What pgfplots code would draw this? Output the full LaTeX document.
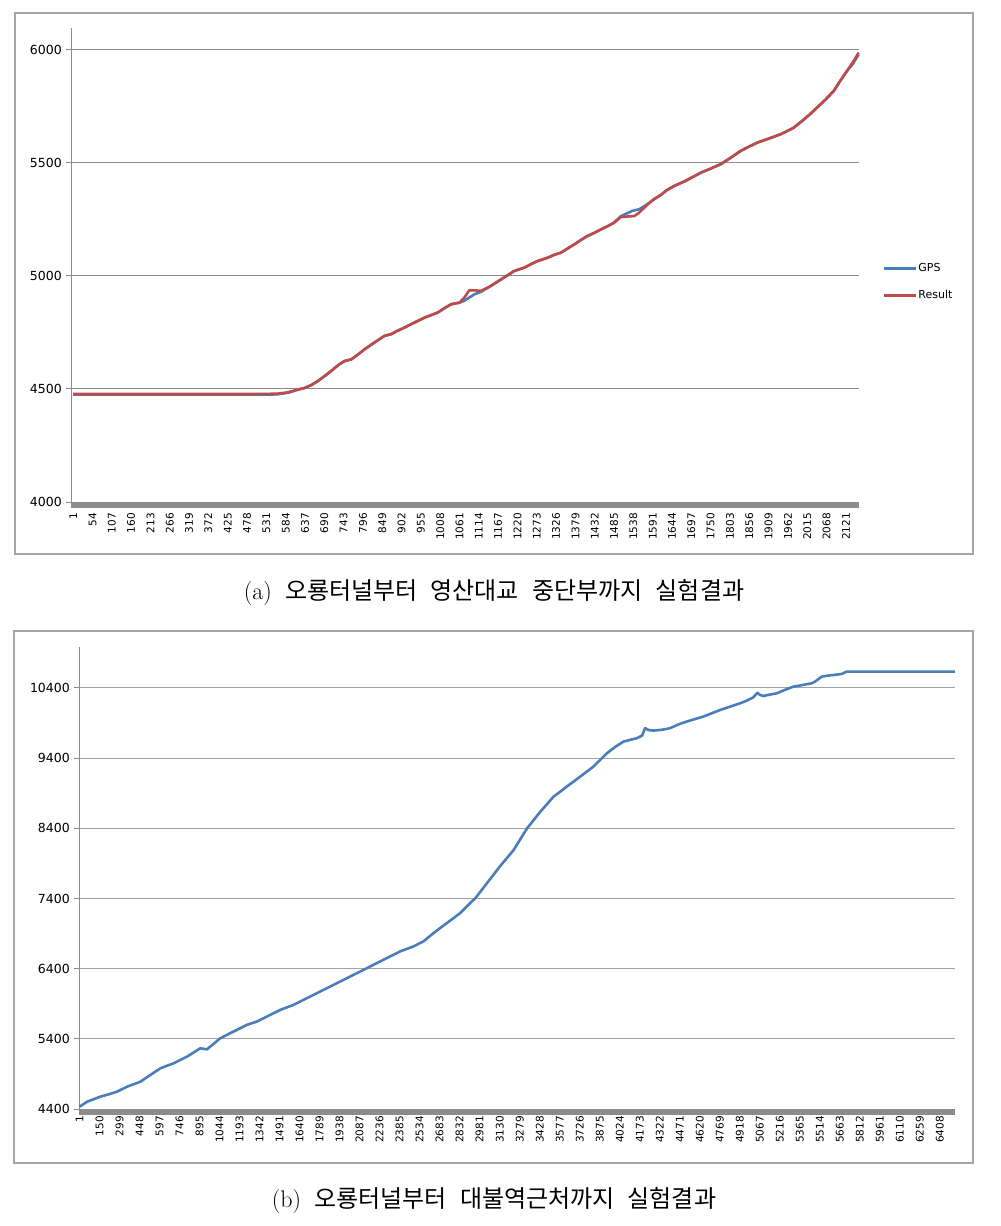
\documentclass[border=0pt]{standalone}
\usepackage{fontspec}
\usepackage{pgfplots}
\pgfplotsset{compat=1.18}
\newfontfamily\dejavu{DejaVu Sans}
\newfontfamily\cjk{Noto Sans CJK KR}
\definecolor{gpsblue}{HTML}{4A7EBB}
\definecolor{resred}{HTML}{BE4B48}
\definecolor{gridg}{HTML}{8C8C8C}
\definecolor{gridb}{HTML}{A3A3A3}
\definecolor{bandg}{HTML}{8C8C8C}
\definecolor{frameg}{HTML}{A6A6A6}

\pgfplotstableread{
x y
1 4478
100 4478
200 4478
300 4478
400 4478
500 4478
560 4479
590 4485
615 4496
635 4504
655 4518
673 4536
690 4556
709 4580
730 4608
746 4624
764 4631
782 4652
800 4675
828 4706
855 4735
874 4743
890 4757
909 4771
935 4792
964 4815
985 4828
1001 4838
1020 4858
1038 4875
1061 4882
1074 4904
1088 4937
1105 4936
1120 4934
1147 4956
1175 4985
1195 5005
1211 5022
1239 5037
1258 5053
1275 5066
1303 5081
1320 5093
1339 5103
1358 5122
1376 5140
1395 5160
1412 5177
1430 5190
1449 5206
1467 5220
1485 5236
1504 5261
1522 5263
1540 5265
1554 5280
1577 5317
1595 5340
1613 5358
1630 5380
1650 5398
1680 5420
1700 5437
1723 5457
1750 5475
1777 5494
1805 5523
1832 5553
1855 5572
1878 5590
1910 5608
1942 5627
1960 5641
1978 5656
2001 5686
2020 5712
2042 5745
2065 5780
2088 5819
2105 5862
2124 5907
2140 5945
2156 5988
}\resulttable

\pgfplotstableread{
x y
1 4475
100 4475
200 4475
300 4475
400 4475
500 4475
560 4476
590 4483
615 4496
635 4504
655 4518
673 4536
690 4556
709 4580
730 4608
746 4624
764 4631
782 4652
800 4675
828 4706
855 4735
874 4743
890 4757
909 4771
935 4792
964 4815
985 4828
1001 4838
1020 4858
1038 4875
1061 4882
1074 4890
1088 4905
1102 4919
1120 4930
1147 4956
1175 4985
1195 5005
1211 5022
1239 5037
1258 5053
1275 5066
1303 5081
1320 5093
1339 5103
1358 5122
1376 5140
1395 5160
1412 5177
1430 5190
1449 5206
1467 5220
1485 5236
1504 5265
1522 5278
1535 5288
1554 5295
1577 5318
1595 5340
1613 5358
1630 5380
1650 5398
1680 5420
1700 5437
1723 5457
1750 5475
1777 5494
1805 5523
1832 5553
1855 5572
1878 5590
1910 5608
1942 5627
1960 5641
1978 5656
2001 5686
2020 5712
2042 5745
2065 5780
2088 5819
2105 5862
2124 5907
2140 5938
2156 5980
}\gpstable

\pgfplotstableread{
x y
1 4433
58 4505
157 4576
220 4610
281 4648
356 4719
455 4790
529 4886
604 4981
702 5052
802 5147
901 5266
950 5250
1000 5330
1049 5409
1148 5504
1248 5600
1323 5647
1397 5718
1497 5813
1595 5885
1695 5980
1794 6075
1893 6170
1992 6265
2092 6360
2191 6456
2290 6551
2389 6646
2488 6717
2563 6789
2637 6907
2737 7050
2836 7192
2910 7335
2947 7400
3040 7630
3134 7863
3232 8086
3334 8400
3431 8633
3530 8849
3629 8993
3729 9136
3828 9279
3928 9469
3990 9560
4052 9636
4100 9660
4151 9684
4190 9720
4213 9827
4240 9800
4275 9793
4340 9805
4399 9827
4460 9880
4523 9922
4590 9960
4647 9993
4710 10040
4771 10086
4840 10130
4920 10181
4970 10220
5019 10267
5049 10333
5070 10300
5093 10286
5140 10305
5193 10324
5250 10370
5317 10419
5380 10440
5453 10467
5478 10490
5528 10561
5570 10575
5614 10585
5677 10600
5714 10633
6520 10633
}\btable

\pgfplotsset{excel/.style={
  scale only axis,
  axis x line*=bottom, axis y line*=left,
  axis line style={gridg, line width=1pt},
  tick align=outside,
  xtick style={draw=none},
  ytick style={gridg, line width=1pt},
  major tick length=5pt,
  ymajorgrids,
  scaled x ticks=false, scaled y ticks=false,
  /pgf/number format/assume math mode=true,
  /pgf/number format/1000 sep={},
  yticklabel style={font=\dejavu\fontsize{12.5}{14}\selectfont, inner sep=0pt, xshift=-4pt, /pgf/number format/fixed, /pgf/number format/precision=0},
  xticklabel style={font=\dejavu\fontsize{10.5}{12}\selectfont, rotate=90, anchor=east, inner sep=0pt},
  clip=false,
}}

\begin{document}
\begin{tikzpicture}[x=1pt,y=1pt]
\path[use as bounding box] (0,0) rectangle (1001,-1226);
\fill[white] (0,0) rectangle (1001,-1226);
% frames
\draw[frameg, line width=1.5pt] (15,-13) rectangle (973,-554);
\draw[frameg, line width=1.5pt] (14,-631) rectangle (973,-1163);

\begin{axis}[excel,
  at={(71pt,-502pt)}, anchor=south west,
  width=788pt, height=474pt,
  xmin=-5, xmax=2157, ymin=4000, ymax=6097,
  ytick={4000,4500,5000,5500,6000},
  grid style={gridg, line width=1pt},
  xtick={1,54,...,2121},
  xticklabel style={xshift=-6pt},
  legend style={at={(1.03,0.464)}, anchor=west, draw=none, fill=none,
    font=\dejavu\fontsize{11}{13}\selectfont, inner sep=0pt, row sep=15pt,
    nodes={inner sep=1pt}},
  legend cell align=left,
  legend image code/.code={\draw[#1] (0pt,0pt) -- (32pt,0pt);},
]
\fill[bandg] (rel axis cs:0,0) rectangle ([yshift=-6pt]rel axis cs:1,0);
\addplot[gpsblue, line width=2.6pt, line join=round] table[x=x,y=y] {\gpstable};
\addlegendentry{GPS}
\addplot[resred, line width=2.6pt, line join=round] table[x=x,y=y] {\resulttable};
\addlegendentry{Result}
\end{axis}

\node[anchor=center, inner sep=0pt] at (494,-592) {\fontsize{24}{28}\selectfont (a)\hspace{0.55em}{\cjk 오룡터널부터\hspace{0.55em}영산대교\hspace{0.55em}중단부까지\hspace{0.55em}실험결과}};

\begin{axis}[excel,
  at={(79pt,-1109pt)}, anchor=south west,
  width=876pt, height=462pt,
  xmin=-3, xmax=6521, ymin=4400, ymax=10984,
  ytick={4400,5400,6400,7400,8400,9400,10400},
  grid style={gridb, line width=1pt},
  xtick={1,150,...,6408},
  xticklabel style={xshift=-2pt},
]
\fill[bandg] (rel axis cs:0,0) rectangle ([yshift=-6pt]rel axis cs:1,0);
\addplot[gpsblue, line width=2.6pt, line join=round] table[x=x,y=y] {\btable};
\end{axis}

\node[anchor=center, inner sep=0pt] at (494,-1200) {\fontsize{24}{28}\selectfont (b)\hspace{0.55em}{\cjk 오룡터널부터\hspace{0.55em}대불역근처까지\hspace{0.55em}실험결과}};
\end{tikzpicture}
\end{document}
